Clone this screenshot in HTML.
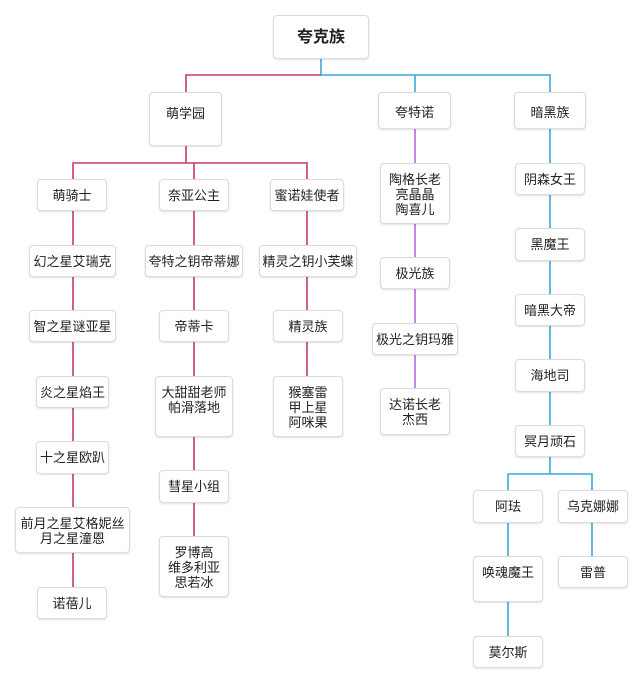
<!DOCTYPE html>
<html><head><meta charset="utf-8"><style>
body{margin:0;width:640px;height:683px;background:#fff;position:relative;overflow:hidden;font-family:"Liberation Sans","Noto Sans CJK SC",sans-serif;}
svg{position:absolute;left:0;top:0}
.b{position:absolute;box-sizing:border-box;border:1px solid #dcdcdc;border-radius:4px;background:#fff;box-shadow:0 1px 2px rgba(0,0,0,0.12);text-align:center;font-size:13px;line-height:15px;padding-top:8px;color:#222;white-space:nowrap}
</style></head><body>
<svg width="640" height="683">
<g stroke-width="1.6" fill="none">
<path d="M321 59V75" stroke="#3aa8d8"/>
<path d="M186 92V75H321" stroke="#c8396b"/>
<path d="M321 75H550V92M415 75V92" stroke="#3aa8d8"/>
<path d="M186 146V163M73 179V163H307V179M194 163V179" stroke="#c8396b"/>
<path d="M73 211V587M194 211V536M307 211V376" stroke="#c8396b"/>
<path d="M415 129V388" stroke="#b86be0"/>
<path d="M550 129V425M550 457V474M508 490V474H592V490M508 523V636M592 523V556" stroke="#3aa8d8"/>
</g></svg>
<div class="b" style="left:273px;top:15px;width:96px;height:44px;font-size:16px;font-weight:bold;padding-top:14px">夸克族</div>
<div class="b" style="left:149px;top:92px;width:73px;height:54px;padding-top:13px">萌学园</div>
<div class="b" style="left:378px;top:92px;width:73px;height:37px;padding-top:12px">夸特诺</div>
<div class="b" style="left:514px;top:92px;width:72px;height:37px;padding-top:12px">暗黑族</div>

<div class="b" style="left:37px;top:179px;width:70px;height:32px">萌骑士</div>
<div class="b" style="left:29px;top:245px;width:87px;height:32px">幻之星艾瑞克</div>
<div class="b" style="left:29px;top:310px;width:87px;height:32px">智之星谜亚星</div>
<div class="b" style="left:36px;top:376px;width:73px;height:32px">炎之星焰王</div>
<div class="b" style="left:36px;top:441px;width:73px;height:33px">十之星欧趴</div>
<div class="b" style="left:15px;top:507px;width:115px;height:46px">前月之星艾格妮丝<br>月之星潼恩</div>
<div class="b" style="left:37px;top:587px;width:70px;height:32px">诺蓓儿</div>

<div class="b" style="left:159px;top:179px;width:70px;height:32px">奈亚公主</div>
<div class="b" style="left:145px;top:245px;width:98px;height:32px">夸特之钥帝蒂娜</div>
<div class="b" style="left:159px;top:310px;width:70px;height:32px">帝蒂卡</div>
<div class="b" style="left:155px;top:376px;width:78px;height:61px">大甜甜老师<br>帕滑落地</div>
<div class="b" style="left:159px;top:470px;width:70px;height:33px">彗星小组</div>
<div class="b" style="left:159px;top:536px;width:70px;height:61px">罗博高<br>维多利亚<br>思若冰</div>

<div class="b" style="left:270px;top:179px;width:74px;height:32px">蜜诺娃使者</div>
<div class="b" style="left:259px;top:245px;width:98px;height:32px">精灵之钥小芙蝶</div>
<div class="b" style="left:273px;top:310px;width:70px;height:32px">精灵族</div>
<div class="b" style="left:273px;top:376px;width:70px;height:61px">猴塞雷<br>甲上星<br>阿咪果</div>

<div class="b" style="left:380px;top:163px;width:70px;height:61px">陶格长老<br>亮晶晶<br>陶喜儿</div>
<div class="b" style="left:380px;top:257px;width:70px;height:32px">极光族</div>
<div class="b" style="left:372px;top:323px;width:86px;height:32px">极光之钥玛雅</div>
<div class="b" style="left:380px;top:388px;width:70px;height:47px">达诺长老<br>杰西</div>

<div class="b" style="left:515px;top:163px;width:70px;height:32px">阴森女王</div>
<div class="b" style="left:515px;top:228px;width:70px;height:33px">黑魔王</div>
<div class="b" style="left:515px;top:294px;width:70px;height:32px">暗黑大帝</div>
<div class="b" style="left:515px;top:359px;width:70px;height:33px">海地司</div>
<div class="b" style="left:515px;top:425px;width:70px;height:32px">冥月顽石</div>
<div class="b" style="left:473px;top:490px;width:70px;height:33px">阿珐</div>
<div class="b" style="left:558px;top:490px;width:70px;height:33px">乌克娜娜</div>
<div class="b" style="left:473px;top:556px;width:70px;height:46px">唤魂魔王</div>
<div class="b" style="left:558px;top:556px;width:70px;height:32px">雷普</div>
<div class="b" style="left:473px;top:636px;width:70px;height:32px">莫尔斯</div>
</body></html>
